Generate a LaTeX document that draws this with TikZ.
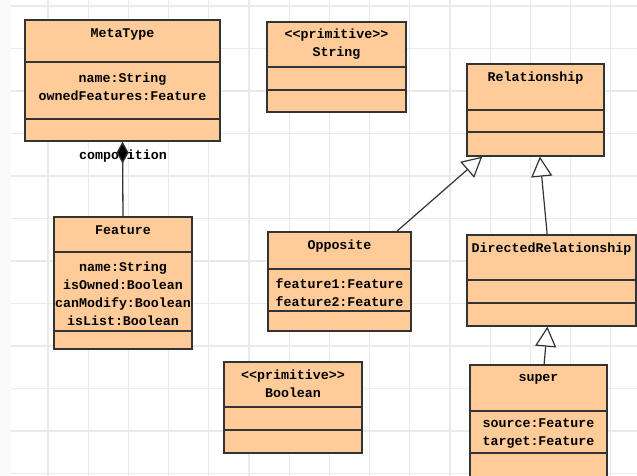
\documentclass[tikz,border=0pt]{standalone}
\usepackage{fontspec}
\setmonofont{Liberation Mono}
\usepackage{tikz}
\usetikzlibrary{arrows.meta}
\definecolor{classfill}{RGB}{255,204,153}
\definecolor{classline}{RGB}{51,51,51}
\definecolor{gridgray}{RGB}{234,234,234}
\definecolor{stripgray}{RGB}{250,250,250}
\tikzset{
   umlbox/.style={draw=classline, fill=classfill, line width=1.3pt, inner sep=0pt},
   umlsep/.style={draw=classline, line width=1.2pt},
   umltext/.style={font=\ttfamily\bfseries\fontsize{13.3}{18}\selectfont,
      align=center, inner sep=0pt, text=black},
   composition/.style={draw=classline, line width=1.3pt,
      -{Diamond[length=22pt,width=12pt,fill=black]}},
   generalization/.style={draw=classline, line width=1.2pt,
      -{Triangle[open,length=20pt,width=21pt,fill=white]}},
   gridline/.style={draw=gridgray, line width=1.3pt},
    }
% class box: name, left, top, right, bottom, first and second separator
\newcommand{\umlclass}[7]{
   \node[umlbox, minimum width={(#4-#2)*1pt}, minimum height={(#5-#3)*1pt}]
      (#1) at ({(#2+#4)/2},{(#3+#5)/2}) {};
   \draw[umlsep] (#2,#6) -- (#4,#6) (#2,#7) -- (#4,#7);
}

\begin{document}
\begin{tikzpicture}[x=1pt,y=-1pt]
   \useasboundingbox (0,0) rectangle (637,476);
   \clip (0,0) rectangle (637,476);
   % background grid
   \fill[white] (0,0) rectangle (637,476);
   \fill[stripgray] (0,0) rectangle (11,476);
   \foreach \k in {0,...,14}
      \draw[gridline] ({48+40.2*\k},0) -- ({48+40.2*\k},476);
   \foreach \k in {0,...,11}
      \draw[gridline] (11,{6+42.5*\k}) -- (637,{6+42.5*\k});

   % classes
   \umlclass{meta}{25}{20}{220}{141}{62}{119}
   \node[umltext] (meta-name) at (122.5,34) {MetaType};
   \node[umltext] (meta-attr) at (122.5,86.5) {name:String\\ownedFeatures:Feature};

   \umlclass{str}{267}{22}{406}{112}{67}{90}
   \node[umltext] (str-name) at (336.5,44) {\textless\textless primitive\textgreater\textgreater\\String};

   \umlclass{rel}{467}{64}{604}{156}{110}{132}
   \node[umltext] (rel-name) at (535.5,78) {Relationship};

   \umlclass{feat}{54}{217}{192}{349}{252}{331}
   \node[umltext] (feat-name) at (123,230) {Feature};
   \node[umltext] (feat-attr) at (123,294)
      {name:String\\isOwned:Boolean\\canModify:Boolean\\isList:Boolean};

   \umlclass{opp}{268}{232}{411}{331}{269}{311}
   \node[umltext] (opp-name) at (339.5,246) {Opposite};
   \node[umltext] (opp-attr) at (339.5,292.5) {feature1:Feature\\feature2:Feature};

   \umlclass{bool}{224}{362}{362}{453}{407}{430}
   \node[umltext] (bool-name) at (293,384) {\textless\textless primitive\textgreater\textgreater\\Boolean};

   \umlclass{dir}{467}{235}{636}{326}{280}{303}
   \node[umltext] (dir-name) at (551.5,249) {DirectedRelationship};

   \umlclass{sup}{470}{365}{607}{490}{411}{453}
   \node[umltext] (sup-name) at (538.5,379) {super};
   \node[umltext] (sup-attr) at (538.5,433.5) {source:Feature\\target:Feature};

   % associations
   \node[umltext] (comp) at (123,156) {composition};
   \draw[composition] (feat.north) -- (meta.south);
   \draw[generalization] (opp) -- (rel);
   \draw[generalization] (dir) -- (rel);
   \draw[generalization] (sup) -- (dir);
\end{tikzpicture}
\end{document}
